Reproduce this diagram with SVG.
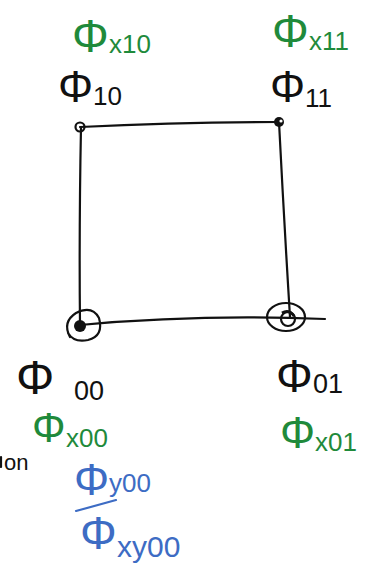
<svg xmlns="http://www.w3.org/2000/svg" width="374" height="564" viewBox="0 0 374 564">
<style>
.t{font-family:"Liberation Sans",Arial,sans-serif}
.k{fill:#111}
.g{fill:#1f8a3b}
.b{fill:#3d6cc4}
.ln{fill:none;stroke:#111;stroke-width:2.2;stroke-linecap:round}
</style>
<rect width="374" height="564" fill="#fff"/>
<g id="connectors" class="ln">
<path d="M80,127 Q180,122 279,122"/>
<path d="M81,127 Q79,230 80,325"/>
<path d="M279,122 Q284,220 290,317"/>
<path d="M80,325 Q200,314 325,319"/>
</g>
<g id="n10">
<circle cx="80" cy="127" r="4.5" class="ln"/>
<text class="t k" x="58" y="102" font-size="44">Φ</text><text class="t k" x="93" y="105" font-size="26">10</text>
<text class="t g" x="72" y="52" font-size="46">Φ</text><text class="t g" x="109" y="53" font-size="26">x10</text>
</g>
<g id="n11">
<circle cx="279" cy="122" r="5" fill="#111"/><circle cx="281" cy="121" r="1.6" fill="#fff"/>
<text class="t k" x="270" y="102" font-size="44">Φ</text><text class="t k" x="305" y="107" font-size="26">11</text>
<text class="t g" x="272" y="47" font-size="46">Φ</text><text class="t g" x="309" y="50" font-size="26">x11</text>
</g>
<g id="n00">
<circle cx="80" cy="326" r="6" fill="#111"/>
<path class="ln" d="M70,337 Q62,322 76,313 Q92,305 99,318 Q104,336 88,340 Q74,343 68,333"/>
<text class="t k" x="16" y="394" font-size="48">Φ</text><text class="t k" x="74" y="400" font-size="27">00</text>
<text class="t g" x="32" y="442" font-size="42">Φ</text><text class="t g" x="66" y="447" font-size="26">x00</text>
<text class="t b" x="74" y="495" font-size="44">Φ</text><text class="t b" x="109" y="492" font-size="26">y00</text>
<path d="M76,511 L116,500" fill="none" stroke="#3d6cc4" stroke-width="2.2" stroke-linecap="round"/>
<text class="t b" x="80" y="549" font-size="46">Φ</text><text class="t b" x="117" y="557" font-size="30">xy00</text>
</g>
<g id="n01">
<ellipse cx="286" cy="317" rx="19" ry="14" class="ln"/>
<circle cx="288" cy="319" r="7" class="ln"/>
<path d="M282,313 Q289,309 294,316" fill="none" stroke="#111" stroke-width="3"/>
<text class="t k" x="276" y="392" font-size="46">Φ</text><text class="t k" x="313" y="393" font-size="27">01</text>
<text class="t g" x="280" y="448" font-size="44">Φ</text><text class="t g" x="315" y="451" font-size="26">x01</text>
</g>
<text class="t k" x="4" y="470" font-size="22">on</text>
<path class="ln" d="M1,457 L1,467" stroke-width="1.8"/>
</svg>
